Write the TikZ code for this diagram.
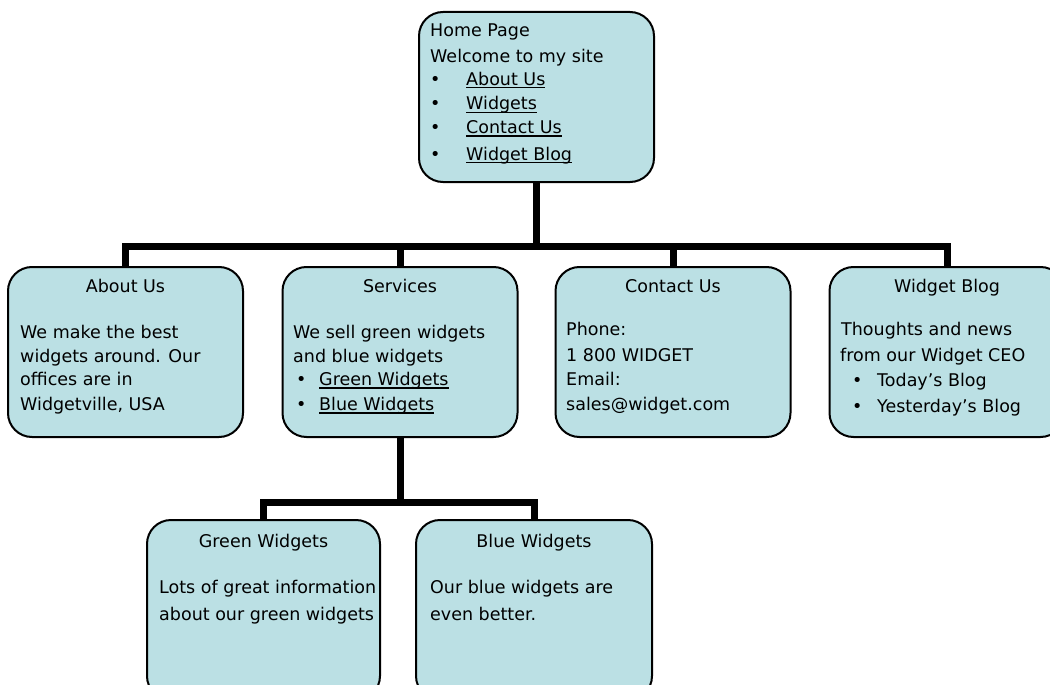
\documentclass[tikz,border=0pt]{standalone}
\usepackage{fontspec}
\setmainfont{DejaVu Sans}
\definecolor{boxfill}{RGB}{187,224,228}
\newcommand{\dfs}{\fontsize{17.5}{20}\selectfont}
\newcommand{\ulk}[1]{\setbox0\hbox{#1}\rlap{\rule[-3.5pt]{\wd0}{1.3pt}}\box0}
\begin{document}
\begin{tikzpicture}[x=1pt,y=-1pt,
  box/.style={draw=black,line width=2pt,fill=boxfill,rounded corners=24pt,inner sep=0pt,minimum width=235pt,minimum height=170pt},
  txt/.style={anchor=base west,inner sep=0pt,font=\dfs},
  ttl/.style={anchor=base,inner sep=0pt,font=\dfs},
  conn/.style={line width=7pt,line join=miter}]
\useasboundingbox (0,0) rectangle (1050,685);
\clip (0,0) rectangle (1050,685);

% boxes
\node[box] (home) at (536.5,97) {};
\node[box] (about) at (125.5,352) {};
\node[box] (services) at (400,352) {};
\node[box] (contact) at (673,352) {};
\node[box] (blog) at (947,352) {};
\node[box,minimum width=233pt,minimum height=180pt] (green) at (263.5,610) {};
\node[box,minimum width=236pt,minimum height=180pt] (blue) at (534,610) {};

% connectors
\coordinate (bar1) at (0,246);
\coordinate (bar2) at (0,502);
\draw[conn] (home.south) -- (home.south |- bar1);
\draw[conn] (about.north) -- (about.north |- bar1) -- (blog.north |- bar1) -- (blog.north);
\draw[conn] (services.north) -- (services.north |- bar1);
\draw[conn] (contact.north) -- (contact.north |- bar1);
\draw[conn] (services.south) -- (services.south |- bar2);
\draw[conn] (green.north) -- (green.north |- bar2) -- (blue.north |- bar2) -- (blue.north);

% home page text
\node[txt] (h1) at (430,37) {Home Page};
\node[txt] (h2) at (430,63) {Welcome to my site};
\node[txt] (hb1) at (430,85) {•};
\node[txt] (hb2) at (430,110) {•};
\node[txt] (hb3) at (430,133) {•};
\node[txt] (hb4) at (430,160) {•};
\node[txt] (hl1) at (466,85) {\ulk{About Us}};
\node[txt] (hl2) at (466,110) {\ulk{Widgets}};
\node[txt] (hl3) at (466,133) {\ulk{Contact Us}};
\node[txt] (hl4) at (466,160) {\ulk{Widget Blog}};

% about us
\node[ttl] (at) at (125.5,292) {About Us};
\node[txt] (a1) at (20,338) {We make the best};
\node[txt] (a2) at (20,362) {widgets around. Our};
\node[txt] (a3) at (20,385) {offices are in};
\node[txt] (a4) at (20,410) {Widgetville, USA};

% services
\node[ttl] (st) at (400,292) {Services};
\node[txt] (s1) at (293,338) {We sell green widgets};
\node[txt] (s2) at (293,362) {and blue widgets};
\node[txt] (sb1) at (296,385) {•};
\node[txt] (sb2) at (296,410) {•};
\node[txt] (sl1) at (319,385) {\ulk{Green Widgets}};
\node[txt] (sl2) at (319,410) {\ulk{Blue Widgets}};

% contact
\node[ttl] (ct) at (673,292) {Contact Us};
\node[txt] (c1) at (566,335) {Phone:};
\node[txt] (c2) at (566,361) {1 800 WIDGET};
\node[txt] (c3) at (566,385) {Email:};
\node[txt] (c4) at (566,410) {sales@widget.com};

% blog
\node[ttl] (bt) at (947,292) {Widget Blog};
\node[txt] (b1) at (841,335) {Thoughts and news};
\node[txt] (b2) at (840,361) {from our Widget CEO};
\node[txt] (bb1) at (852,386) {•};
\node[txt] (bb2) at (852,412) {•};
\node[txt] (bl1) at (877,386) {Today's Blog};
\node[txt] (bl2) at (877,412) {Yesterday's Blog};

% green widgets
\node[ttl] (gt) at (263.5,547) {Green Widgets};
\node[txt] (g1) at (159,593) {Lots of great information};
\node[txt] (g2) at (159,620) {about our green widgets};

% blue widgets
\node[ttl] (wt) at (534,547) {Blue Widgets};
\node[txt] (w1) at (430,593) {Our blue widgets are};
\node[txt] (w2) at (430,620) {even better.};
\end{tikzpicture}
\end{document}
